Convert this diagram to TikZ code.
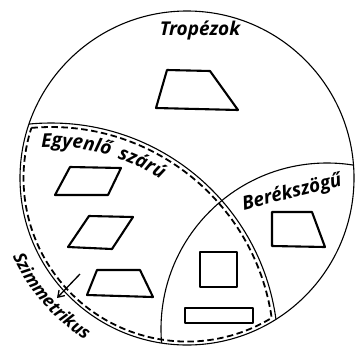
\documentclass[tikz,border=0pt]{standalone}
\usepackage{fontspec}
\setmainfont{Open Sans}
\usetikzlibrary{decorations.text,arrows.meta}
\begin{document}
\begin{tikzpicture}[x=1pt,y=-1pt,
  outline/.style={line width=1.1pt},
  figshape/.style={line width=2.1pt, line join=round},
  dashline/.style={line width=1.8pt, dash pattern=on 6.5pt off 3.5pt},
  lbl/.style={font=\fontsize{19}{19}\selectfont\bfseries\itshape}]
\useasboundingbox (0,0) rectangle (355,351);
\coordinate (A) at (187,178);
\coordinate (B) at (51,350);
\coordinate (C) at (327,329);
% big circle and region boundaries
\draw[outline] (A) circle (167);
\begin{scope}
  \clip (A) circle (167);
  \draw[outline] (B) circle (227);
  \draw[outline] (C) circle (166);
\end{scope}
% dashed boundary of the isosceles region
\draw[dashline] (31.3,127.9) arc[start angle=-95.07, end angle=-8.28, radius=223]
  arc[start angle=58.81, end angle=197.84, radius=163.5] -- cycle;
% figures
\draw[figshape] (156,108) -- (238,110) -- (210,71) -- (167,70) -- cycle;
\draw[figshape] (55,195) -- (108,195) -- (121,168) -- (70,167) -- cycle;
\draw[figshape] (68,247) -- (112,249) -- (133,217) -- (89,216) -- cycle;
\draw[figshape] (87,295) -- (153,297) -- (140,270) -- (97,270) -- cycle;
\draw[figshape] (200,252) rectangle (237,287);
\draw[figshape] (185,308) rectangle (253,323);
\draw[figshape] (272,212) -- (312,212) -- (325,247) -- (272,246) -- cycle;
% labels
\node[lbl] (trap) at (200,31) {Tropézok};
\node[lbl, rotate=14] (bere) at (292,193) {Berékszögű};
\path[decorate, decoration={text along path, text align=center,
  text={|\fontsize{19}{19}\selectfont\bfseries\itshape\addfontfeature{LetterSpace=16}|Egyenlő szárú}}]
  (B) ++(-99:203) arc[start angle=-99, end angle=-51, radius=203];
\path[decorate, decoration={text along path, text align=center,
  text={|\fontsize{17.5}{17.5}\selectfont\bfseries\itshape\addfontfeature{LetterSpace=5}|Szimmetrikus}}]
  (A) ++(164:191) arc[start angle=164, end angle=114, radius=191];
% arrow
\coordinate (arS) at (80,274);
\coordinate (arE) at (57,298);
\draw[line width=1.3pt, -{Straight Barb[length=6pt,width=8pt]}] (arS) -- (arE);
\end{tikzpicture}
\end{document}
